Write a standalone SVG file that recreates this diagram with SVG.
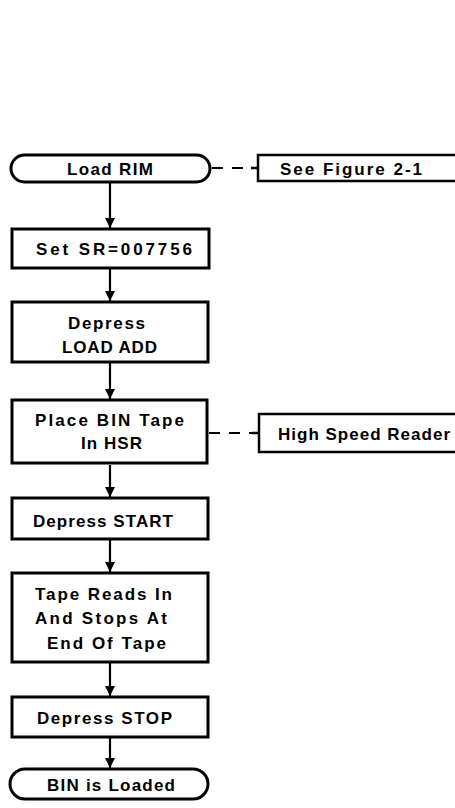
<svg xmlns="http://www.w3.org/2000/svg" width="455" height="808" viewBox="0 0 455 808">
<defs>
<marker id="ah" viewBox="0 0 10 10" refX="10" refY="5" markerWidth="10" markerHeight="10" markerUnits="userSpaceOnUse" orient="auto">
<path d="M0,0 L10,5 L0,10 z" fill="#000"/>
</marker>
</defs>
<style>
.box{fill:#fff;stroke:#000;stroke-width:3}
.t{font-family:"Liberation Sans",Arial,sans-serif;font-weight:bold;font-size:17px;fill:#000}
.c{stroke:#000;stroke-width:2.2;fill:none}
.d{stroke:#000;stroke-width:2;fill:none;stroke-dasharray:11 9}
.br{stroke:#000;stroke-width:2.5;fill:none}
</style>
<rect width="455" height="808" fill="#fff"/>
<g id="connectors">
<line class="c" x1="110" y1="183" x2="110" y2="228" marker-end="url(#ah)"/>
<line class="c" x1="110" y1="269" x2="110" y2="301" marker-end="url(#ah)"/>
<line class="c" x1="110" y1="363" x2="110" y2="399" marker-end="url(#ah)"/>
<line class="c" x1="110" y1="465" x2="110" y2="497" marker-end="url(#ah)"/>
<line class="c" x1="110" y1="540" x2="110" y2="572" marker-end="url(#ah)"/>
<line class="c" x1="110" y1="663" x2="110" y2="696" marker-end="url(#ah)"/>
<line class="c" x1="110" y1="738" x2="110" y2="768" marker-end="url(#ah)"/>
<line class="d" x1="212" y1="168" x2="252" y2="168"/>
<line class="d" x1="209" y1="433" x2="253" y2="433"/>
</g>
<g id="n-loadrim">
<rect class="box" x="11" y="155" width="199" height="27" rx="13.5"/>
<text class="t" x="67" y="175" textLength="86" lengthAdjust="spacing">Load RIM</text>
</g>
<g id="n-setsr">
<rect class="box" x="12" y="229" width="197" height="39"/>
<text class="t" x="36" y="255" textLength="156" lengthAdjust="spacing">Set SR=007756</text>
</g>
<g id="n-loadadd">
<rect class="box" x="12" y="302" width="196" height="60"/>
<text class="t" x="68" y="329" textLength="77" lengthAdjust="spacing">Depress</text>
<text class="t" x="62" y="353" textLength="95" lengthAdjust="spacing">LOAD ADD</text>
</g>
<g id="n-placebin">
<rect class="box" x="12" y="400" width="195" height="63"/>
<text class="t" x="35" y="426" textLength="149" lengthAdjust="spacing">Place BIN Tape</text>
<text class="t" x="81" y="449" textLength="61" lengthAdjust="spacing">In HSR</text>
</g>
<g id="n-start">
<rect class="box" x="12" y="498" width="196" height="41"/>
<text class="t" x="33" y="527" textLength="140" lengthAdjust="spacing">Depress START</text>
</g>
<g id="n-tapereads">
<rect class="box" x="12" y="573" width="196" height="89"/>
<text class="t" x="35" y="600" textLength="137" lengthAdjust="spacing">Tape Reads In</text>
<text class="t" x="35" y="624" textLength="132" lengthAdjust="spacing">And Stops At</text>
<text class="t" x="47" y="649" textLength="119" lengthAdjust="spacing">End Of Tape</text>
</g>
<g id="n-stop">
<rect class="box" x="12" y="697" width="196" height="40"/>
<text class="t" x="37" y="724" textLength="135" lengthAdjust="spacing">Depress STOP</text>
</g>
<g id="n-binloaded">
<rect class="box" x="10" y="769" width="198" height="30" rx="15"/>
<text class="t" x="47" y="791" textLength="128" lengthAdjust="spacing">BIN is Loaded</text>
</g>
<g id="a-figure">
<path class="br" d="M456,155 H258 V181 H456 M258,168 H251"/>
<text class="t" x="280" y="175" textLength="142" lengthAdjust="spacing">See Figure 2-1</text>
</g>
<g id="a-hsr">
<path class="br" d="M456,414 H259 V452 H456 M259,433 H252"/>
<text class="t" x="278" y="440" textLength="172" lengthAdjust="spacing">High Speed Reader</text>
</g>
</svg>
